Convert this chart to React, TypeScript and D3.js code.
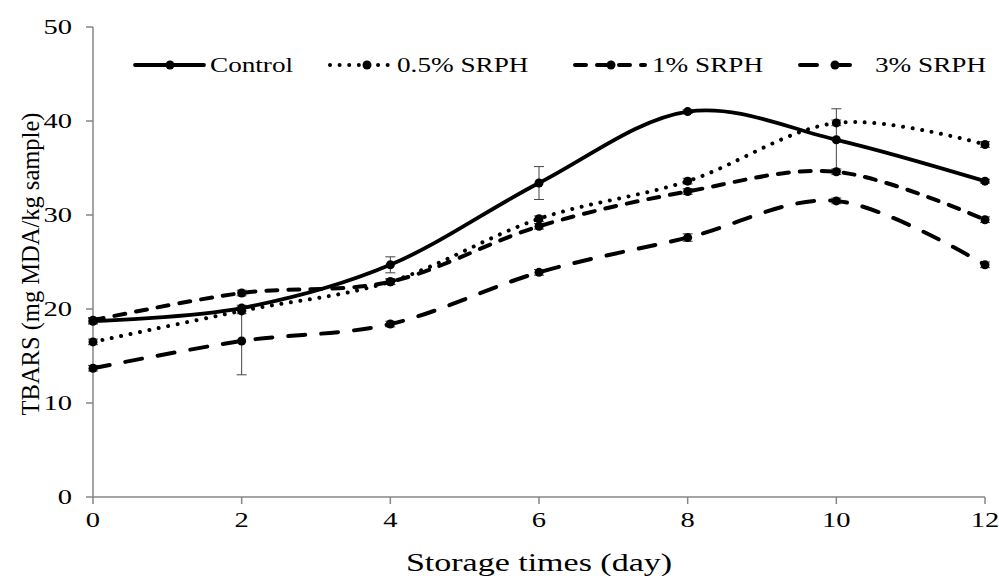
import React from 'react';
import * as d3 from 'd3';

const width = 999;
const height = 576;
const margin = { top: 27, right: 14, bottom: 79, left: 93 };

const days = [0, 2, 4, 6, 8, 10, 12];
const control = [18.7, 20.1, 24.7, 33.4, 41.0, 38.0, 33.6];
const srph05 = [16.5, 19.8, 22.9, 29.6, 33.6, 39.8, 37.5];
const srph1 = [18.8, 21.7, 22.9, 28.8, 32.5, 34.6, 29.5];
const srph3 = [13.7, 16.6, 18.4, 23.9, 27.6, 31.5, 24.7];

const controlErr = [0.3, 0.3, 0.85, 1.75, 0.2, 3.3, 0.2];
const srph05Err = [0.3, 0.3, 0.3, 0.3, 0.3, 0.3, 0.3];
const srph1Err = [0.3, 0.3, 0.3, 0.3, 0.3, 0.3, 0.3];
const srph3Err = [0.3, 3.6, 0.3, 0.3, 0.4, 0.3, 0.3];

const xTicks = [0, 2, 4, 6, 8, 10, 12];
const yTicks = [0, 10, 20, 30, 40, 50];

const seriesNames = ['Control', '0.5% SRPH', '1% SRPH', '3% SRPH'];

const styles = [
  { dash: 'none', w: 3.8 },
  { dash: '0.01 9.6', w: 4 },
  { dash: '11 11', w: 4 },
  { dash: '17 16', w: 4 },
];

const legendPos = [
  { x1: 135, x2: 204, m: 170, tx: 210 },
  { x1: 330, x2: 393, m: 367, tx: 397 },
  { x1: 575, x2: 645, m: 611, tx: 652 },
  { x1: 800, x2: 853, m: 835, tx: 875 },
];

const font = '"Liberation Serif", "Times New Roman", serif';
const axisColor = '#868686';
const stretch = 1.36; // text in the picture is wider than it is tall

// text stretched horizontally, drawn at (x, y)
function Txt({ x, y, anchor = 'start', dy = '0', size = 20, children }: any) {
  return (
    <text
      transform={`translate(${x},${y}) scale(${stretch},1)`}
      dy={dy}
      textAnchor={anchor}
      fontFamily={font}
      fontSize={size}
      fill="#000"
    >
      {children}
    </text>
  );
}

export default function App() {
  const x = d3.scaleLinear().domain([0, 12]).range([margin.left, width - margin.right]);
  const y = d3.scaleLinear().domain([0, 50]).range([height - margin.bottom, margin.top]);

  const data = [control, srph05, srph1, srph3];
  const errs = [controlErr, srph05Err, srph1Err, srph3Err];

  const line = d3
    .line<number>()
    .x((_, i) => x(days[i]))
    .y(d => y(d))
    .curve(d3.curveCardinal.tension(0));

  return (
    <svg width={width} height={height} style={{ position: 'absolute', left: 0, top: 0, background: '#fff' }}>
      {/* axes */}
      <line x1={x(0)} x2={x(12)} y1={y(0)} y2={y(0)} stroke={axisColor} strokeWidth={1.5} />
      <line x1={x(0)} x2={x(0)} y1={y(0)} y2={y(50)} stroke={axisColor} strokeWidth={1.5} />
      {yTicks.map(t => (
        <g key={'y' + t}>
          <line x1={x(0) - 7} x2={x(0)} y1={y(t)} y2={y(t)} stroke={axisColor} strokeWidth={1.5} />
          <Txt x={x(0) - 21} y={y(t)} dy="0.35em" anchor="end" size={21}>
            {t}
          </Txt>
        </g>
      ))}
      {xTicks.map(t => (
        <g key={'x' + t}>
          <line x1={x(t)} x2={x(t)} y1={y(0)} y2={y(0) + 7} stroke={axisColor} strokeWidth={1.5} />
          <Txt x={x(t)} y={y(0) + 30} anchor="middle" size={21}>
            {t}
          </Txt>
        </g>
      ))}
      <Txt x={(x(0) + x(12)) / 2} y={571} anchor="middle" size={25}>
        Storage times (day)
      </Txt>
      <text
        transform={`translate(39, ${(y(0) + y(50)) / 2 + 2}) rotate(-90)`}
        textAnchor="middle"
        fontFamily={font}
        fontSize={24.5}
      >
        TBARS (mg MDA/kg sample)
      </text>

      {/* error bars */}
      {data.map((s, si) =>
        s.map((v, i) => (
          <g key={`e${si}-${i}`} stroke="#444" strokeWidth={1}>
            <line x1={x(days[i])} x2={x(days[i])} y1={y(v - errs[si][i])} y2={y(v + errs[si][i])} />
            <line x1={x(days[i]) - 5} x2={x(days[i]) + 5} y1={y(v - errs[si][i])} y2={y(v - errs[si][i])} />
            <line x1={x(days[i]) - 5} x2={x(days[i]) + 5} y1={y(v + errs[si][i])} y2={y(v + errs[si][i])} />
          </g>
        ))
      )}

      {/* lines */}
      {data.map((s, si) => (
        <path
          key={'l' + si}
          d={line(s) || ''}
          fill="none"
          stroke="#000"
          strokeWidth={styles[si].w}
          strokeDasharray={styles[si].dash}
          strokeLinecap="round"
        />
      ))}
      {data.map((s, si) =>
        s.map((v, i) => <circle key={`m${si}-${i}`} cx={x(days[i])} cy={y(v)} r={4.5} fill="#000" />)
      )}

      {/* legend */}
      {seriesNames.map((n, si) => (
        <g key={'lg' + si}>
          <line
            x1={legendPos[si].x1}
            x2={legendPos[si].x2}
            y1={65}
            y2={65}
            stroke="#000"
            strokeWidth={styles[si].w}
            strokeDasharray={styles[si].dash}
            strokeLinecap="round"
          />
          <circle cx={legendPos[si].m} cy={65} r={4.5} fill="#000" />
          <Txt x={legendPos[si].tx} y={65} dy="0.35em">
            {n}
          </Txt>
        </g>
      ))}
    </svg>
  );
}
